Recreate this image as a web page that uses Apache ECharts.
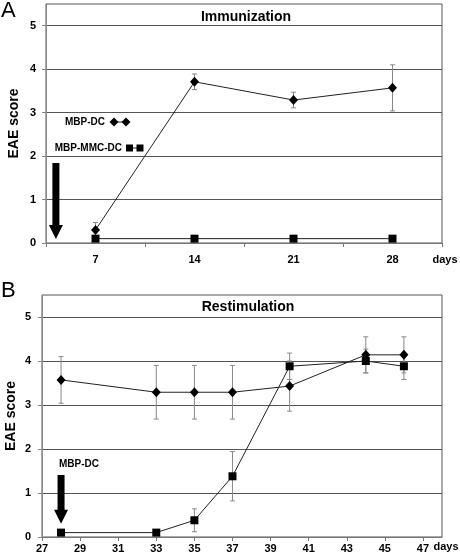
<!DOCTYPE html>
<html><head><meta charset="utf-8">
<script src="https://cdn.jsdelivr.net/npm/echarts@6/dist/echarts.min.js"></script>
<style>html,body{margin:0;padding:0;background:#fff}#c{width:460px;height:560px}</style>
</head><body><div id="c"></div>
<script>
// ---- Panel A: Immunization ----
const daysA = [7, 14, 21, 28];
const mbpDcA = [0.30, 3.71, 3.29, 3.57];
const mbpDcErrA = [0.17, 0.18, 0.18, 0.53];
const mbpMmcDcA = [0.1, 0.1, 0.1, 0.1];
const mbpMmcDcErrA = [0, 0, 0, 0];
const tickLabelsA = [7, 14, 21, 28];
const tickMarksA = [3.5, 10.5, 17.5, 24.5, 31.5];
const arrowA = [4.2, 1.84, 0.09];

// ---- Panel B: Restimulation ----
const daysB = [28, 33, 35, 37, 40, 44, 46];
const mbpDcB = [3.57, 3.29, 3.29, 3.29, 3.43, 4.14, 4.14];
const mbpDcErrB = [0.53, 0.61, 0.61, 0.61, 0.57, 0.41, 0.41];
const mbpMmcDcB = [0.1, 0.1, 0.38, 1.38, 3.88, 4.0, 3.88];
const mbpMmcDcErrB = [0, 0, 0.26, 0.56, 0.3, 0.27, 0.3];
const tickLabelsB = [27, 29, 31, 33, 35, 37, 39, 41, 43, 45, 47];
const arrowB = [28, 1.41, 0.30];

const yTicks = [0, 1, 2, 3, 4, 5];
const FONT = "'Liberation Sans', Arial, sans-serif";

const chart = echarts.init(document.getElementById('c'), null, {renderer: 'canvas'});

function yAxisCfg(gridIndex, nameGap, margin) {
  return {
    type: 'value', gridIndex, min: 0, max: 5.5, interval: 1,
    name: 'EAE score', nameLocation: 'middle', nameGap, nameMoveOverlap: false,
    nameTextStyle: {fontFamily: FONT, fontWeight: 'bold', fontSize: 14, color: '#000'},
    axisLine: {show: true, lineStyle: {color: '#888', width: 1}},
    axisTick: {show: true, length: 4, inside: false, customValues: yTicks, lineStyle: {color: '#888'}},
    axisLabel: {customValues: yTicks, margin, fontFamily: FONT, fontWeight: 'bold', fontSize: 11, color: '#000'},
    splitLine: {show: true, lineStyle: {color: '#555', width: 1}}
  };
}
function xAxisCfg(gridIndex, min, max, ticks, labels, margin) {
  return {
    type: 'value', gridIndex, min, max,
    axisLine: {show: true, onZero: false, lineStyle: {color: '#777', width: 1}},
    axisTick: {show: true, length: 4, customValues: ticks, lineStyle: {color: '#777'}},
    axisLabel: {customValues: labels, margin, fontFamily: FONT, fontWeight: 'bold', fontSize: 11, color: '#000'},
    splitLine: {show: false}
  };
}
function lineSeries(name, idx, xs, ys, symbol, size) {
  return {
    name, type: 'line', xAxisIndex: idx, yAxisIndex: idx,
    data: xs.map((x, i) => [x, ys[i]]),
    symbol, symbolSize: size, showSymbol: true,
    itemStyle: {color: '#000'},
    lineStyle: {color: '#222', width: 1},
    z: 3, silent: true, animation: false
  };
}
function errSeries(idx, xs, ys, es) {
  return {
    type: 'custom', xAxisIndex: idx, yAxisIndex: idx,
    data: xs.map((x, i) => [x, ys[i] - es[i], ys[i] + es[i], es[i]]),
    encode: {x: 0, y: [1, 2]},
    renderItem: (params, api) => {
      if (api.value(3) <= 0) return null;
      const x = api.value(0);
      const p1 = api.coord([x, api.value(1)]);
      const p2 = api.coord([x, api.value(2)]);
      const w = 2.5, st = {stroke: '#888', lineWidth: 1};
      return {type: 'group', children: [
        {type: 'line', shape: {x1: p1[0], y1: p1[1], x2: p2[0], y2: p2[1]}, style: st},
        {type: 'line', shape: {x1: p1[0] - w, y1: p1[1], x2: p1[0] + w, y2: p1[1]}, style: st},
        {type: 'line', shape: {x1: p2[0] - w, y1: p2[1], x2: p2[0] + w, y2: p2[1]}, style: st}
      ]};
    },
    z: 2, silent: true, animation: false
  };
}
function arrowSeries(idx, a) {
  return {
    type: 'custom', xAxisIndex: idx, yAxisIndex: idx,
    data: [a], encode: {x: 0, y: [1, 2]},
    renderItem: (params, api) => {
      const top = api.coord([api.value(0), api.value(1)]);
      const tip = api.coord([api.value(0), api.value(2)]);
      const cx = top[0], sw = 3.5, hw = 7, hh = 14;
      const hy = tip[1] - hh;
      return {type: 'polygon', shape: {points: [
        [cx - sw, top[1]], [cx + sw, top[1]], [cx + sw, hy], [cx + hw, hy],
        [cx, tip[1]], [cx - hw, hy], [cx - sw, hy]
      ]}, style: {fill: '#000'}};
    },
    z: 4, silent: true, animation: false
  };
}
const txt = (text, x, y, size, bold, align) => ({
  type: 'text', x, y, silent: true, z: 10,
  style: {text, fill: '#000', fontFamily: FONT, fontSize: size, fontWeight: bold ? 'bold' : 'normal',
          align: align || 'center', verticalAlign: 'middle'}
});
const diamond = (cx, cy) => ({type: 'polygon', z: 11, silent: true,
  shape: {points: [[cx, cy - 4.5], [cx + 4.5, cy], [cx, cy + 4.5], [cx - 4.5, cy]]}, style: {fill: '#000'}});

const option = {
  animation: false,
  backgroundColor: '#fff',
  grid: [
    {left: 46, top: 4, width: 396, height: 239, show: true, borderColor: '#555', borderWidth: 1,
     backgroundColor: 'transparent', containLabel: false, outerBoundsMode: 'none'},
    {left: 42, top: 295, width: 400, height: 242, show: true, borderColor: '#555', borderWidth: 1,
     backgroundColor: 'transparent', containLabel: false, outerBoundsMode: 'none'}
  ],
  xAxis: [
    xAxisCfg(0, 3.5, 31.5, tickMarksA, tickLabelsA, 11),
    xAxisCfg(1, 27, 48, tickLabelsB, tickLabelsB, 6)
  ],
  yAxis: [yAxisCfg(0, 25, 10), yAxisCfg(1, 24, 11)],
  series: [
    errSeries(0, daysA, mbpDcA, mbpDcErrA),
    errSeries(0, daysA, mbpMmcDcA, mbpMmcDcErrA),
    lineSeries('MBP-DC', 0, daysA, mbpDcA, 'diamond', [9, 10]),
    lineSeries('MBP-MMC-DC', 0, daysA, mbpMmcDcA, 'rect', 8),
    arrowSeries(0, arrowA),
    errSeries(1, daysB, mbpDcB, mbpDcErrB),
    errSeries(1, daysB, mbpMmcDcB, mbpMmcDcErrB),
    lineSeries('MBP-DC', 1, daysB, mbpDcB, 'diamond', [9, 10]),
    lineSeries('MBP-MMC-DC', 1, daysB, mbpMmcDcB, 'rect', 8),
    arrowSeries(1, arrowB)
  ],
  graphic: [
    txt('A', 1, 11, 22, false, 'left'),
    txt('B', 1, 291, 22, false, 'left'),
    txt('Immunization', 246, 17, 14, true),
    txt('Restimulation', 248, 307, 14, true),
    txt('days', 445, 260, 11, true),
    txt('days', 446, 547, 11, true),
    txt('MBP-DC', 79, 464, 10, true),
    txt('MBP-DC', 105, 122, 10, true, 'right'),
    txt('MBP-MMC-DC', 122, 148, 10, true, 'right'),
    {type: 'line', silent: true, shape: {x1: 114, y1: 122, x2: 126, y2: 122}, style: {stroke: '#222', lineWidth: 1}, z: 10},
    diamond(114, 122),
    diamond(126, 122),
    {type: 'line', silent: true, shape: {x1: 130, y1: 148, x2: 140, y2: 148}, style: {stroke: '#222', lineWidth: 1}, z: 10},
    {type: 'rect', silent: true, shape: {x: 126, y: 144.5, width: 7, height: 7}, style: {fill: '#000'}, z: 11},
    {type: 'rect', silent: true, shape: {x: 136.5, y: 144.5, width: 7, height: 7}, style: {fill: '#000'}, z: 11}
  ]
};
chart.setOption(option);
</script>
</body></html>
